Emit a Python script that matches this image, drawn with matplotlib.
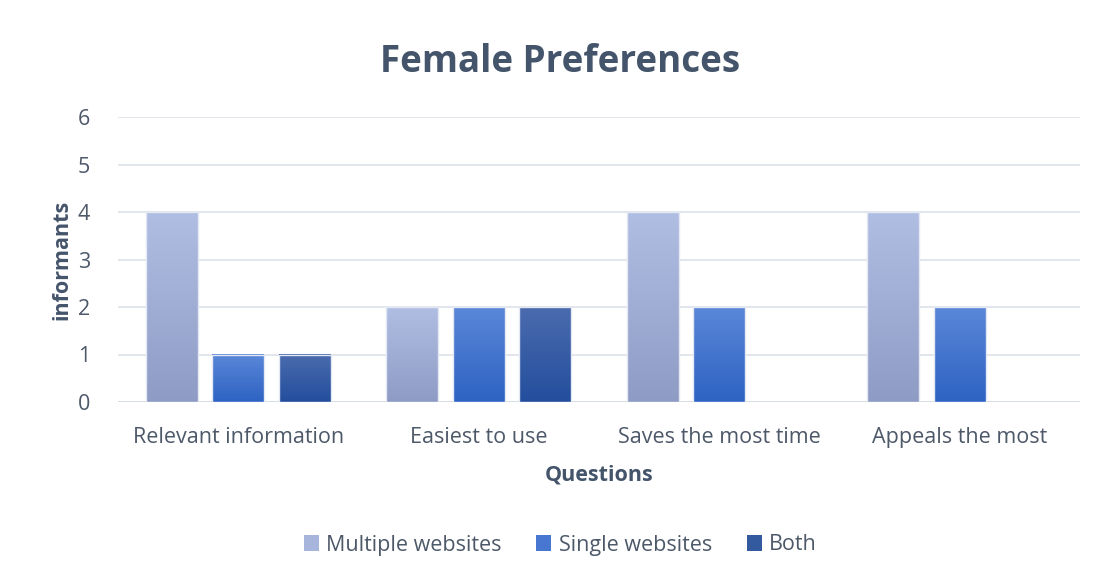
import matplotlib
matplotlib.use("Agg")
import matplotlib.pyplot as plt
import numpy as np
from matplotlib.colors import LinearSegmentedColormap
from matplotlib.patches import Rectangle

categories = ["Relevant information", "Easiest to use", "Saves the most time", "Appeals the most"]
series_names = ["Multiple websites", "Single websites", "Both"]
multiple = [4, 2, 4, 4]
single = [1, 2, 2, 2]
both = [1, 2, 0, 0]
values = [multiple, single, both]
yticks = [0, 1, 2, 3, 4, 5, 6]

# gradient colours (top, bottom) and legend colours
grad = [("#B1BEE3", "#8E9BC5"), ("#5A87D8", "#2E63C3"), ("#4B6BAE", "#234E9D")]
legend_cols = ["#A7B5DC", "#4777D0", "#33599F"]

plt.rcParams['font.family'] = ['Open Sans', 'DejaVu Sans']
fig = plt.figure(figsize=(11.03, 5.79), dpi=100)
ax = fig.add_axes([118/1103, 1-402/579, (1080-118)/1103, (402-117)/579])

x = np.arange(len(categories))
width = 0.216
offsets = [-0.277, 0.0, 0.277]

grid_c = "#DDE2EA"
for yv in yticks:
    ax.axhline(yv, color=grid_c if yv > 0 else "#D0D6E0", lw=1.2, zorder=0)

gimg = np.linspace(0, 1, 256).reshape(-1, 1)
for si, vals in enumerate(values):
    cmap = LinearSegmentedColormap.from_list("g%d" % si, [grad[si][1], grad[si][0]])
    for xi, v in zip(x, vals):
        if v <= 0:
            continue
        x0 = xi + offsets[si] - width/2
        ax.imshow(gimg, cmap=cmap, extent=[x0, x0+width, 0, v], origin='lower',
                  aspect='auto', zorder=2, interpolation='bilinear')
        ax.add_patch(Rectangle((x0, 0), width, v, fill=False, edgecolor="#E3E8F2",
                               lw=1.0, zorder=3))
ax.set_xlim(-0.5, len(categories)-0.5)
ax.set_ylim(0, 6)

for s in ax.spines.values():
    s.set_visible(False)
tick_c = "#4D5869"
fs = 15.5
ax.set_yticks(yticks)
ax.set_yticklabels([str(t) for t in yticks], fontsize=fs, color=tick_c)
ax.set_xticks(x)
ax.set_xticklabels(categories, fontsize=fs, color=tick_c)
ax.tick_params(axis='both', length=0)
ax.tick_params(axis='y', pad=20)
ax.tick_params(axis='x', pad=18)

lab_c = "#44546A"
ax.set_xlabel("Questions", fontsize=fs, fontweight='bold', color=lab_c, labelpad=12)
ax.set_ylabel("informants", fontsize=fs, fontweight='bold', color=lab_c, labelpad=4)

fig.text(0.5074, 1-62/579, "Female Preferences", ha='center', va='center',
         fontsize=26.5, fontweight='bold', color=lab_c)

handles = [Rectangle((0, 0), 1, 1, facecolor=c, edgecolor='none') for c in legend_cols]
fig.legend(handles, series_names, loc='center', bbox_to_anchor=(0.508, 1-545/579),
           ncol=3, frameon=False, fontsize=fs, labelcolor=tick_c,
           handlelength=0.7, handleheight=0.7, handletextpad=0.35, columnspacing=1.6)

fig.savefig("out.png", dpi=100, facecolor='white')
